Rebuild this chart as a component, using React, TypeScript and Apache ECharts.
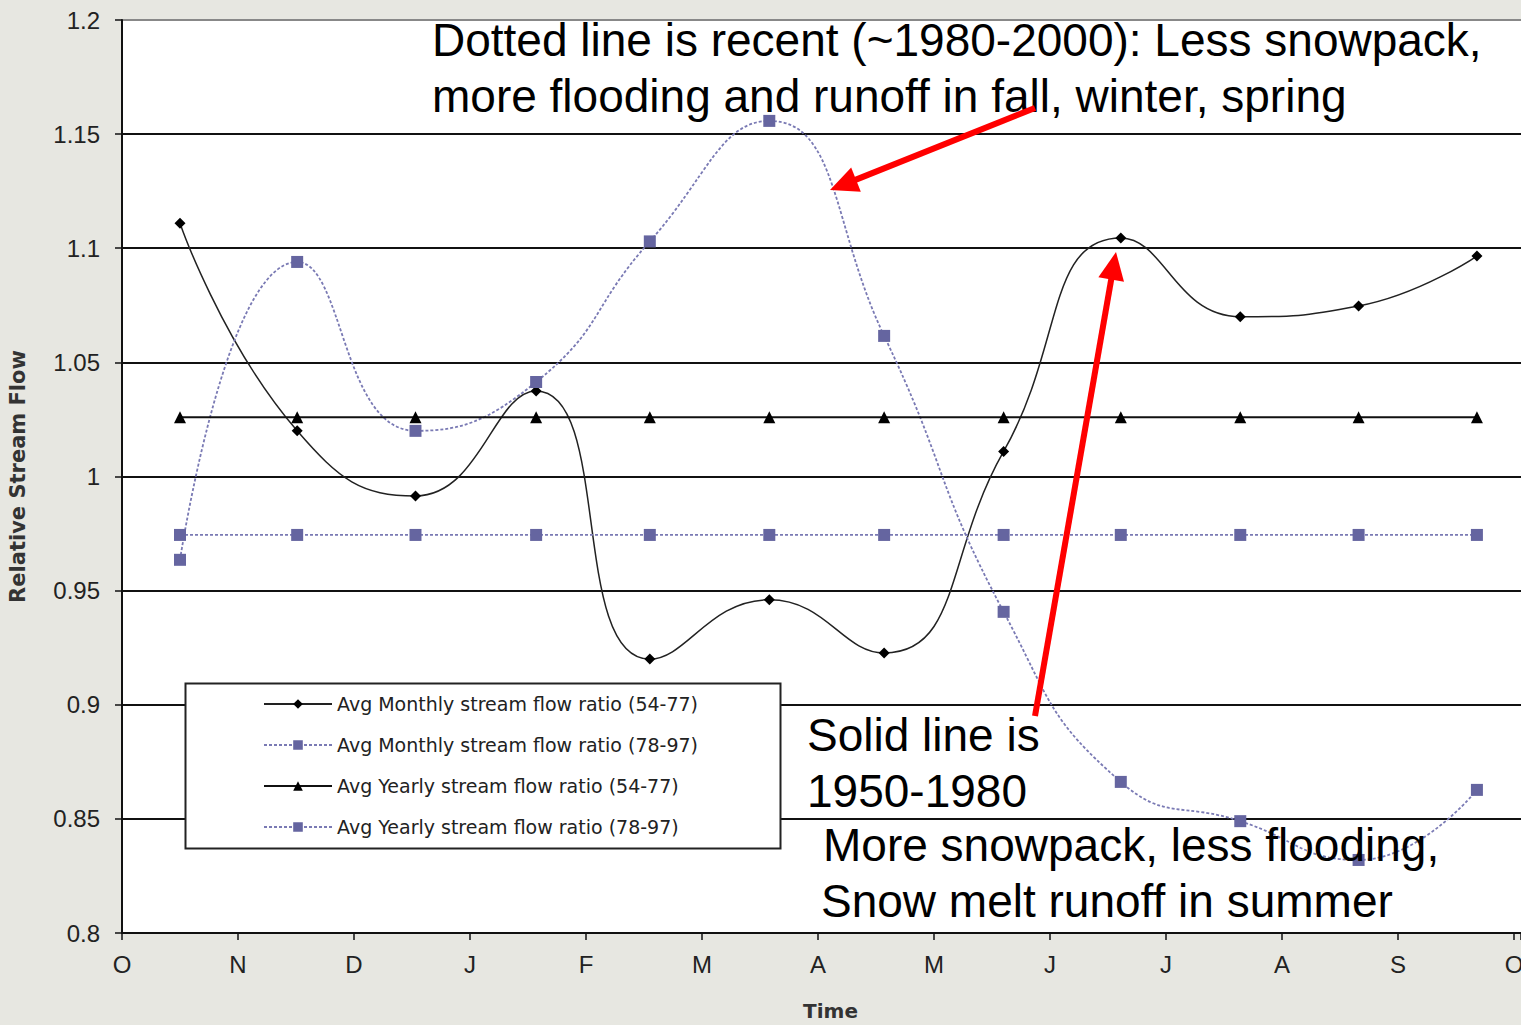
import React, { useEffect, useRef } from "react";
import * as echarts from "echarts";

const monthLabels = ["O", "N", "D", "J", "F", "M", "A", "M", "J", "J", "A", "S", "O"];
const pointMonths = [0.5, 1.51, 2.53, 3.57, 4.55, 5.58, 6.57, 7.6, 8.61, 9.64, 10.66, 11.68];
const monthly5477 = [1.111, 1.02, 0.9915, 1.0375, 0.92, 0.946, 0.9227, 1.011, 1.1045, 1.07, 1.0747, 1.0966];
const monthly7897 = [0.9635, 1.094, 1.02, 1.0414, 1.103, 1.1558, 1.0616, 0.9407, 0.8662, 0.849, 0.832, 0.8627];
const yearly5477 = [1.026, 1.026, 1.026, 1.026, 1.026, 1.026, 1.026, 1.026, 1.026, 1.026, 1.026, 1.026];
const yearly7897 = [0.9744, 0.9744, 0.9744, 0.9744, 0.9744, 0.9744, 0.9744, 0.9744, 0.9744, 0.9744, 0.9744, 0.9744];
const seriesNames = [
  "Avg Monthly stream flow ratio (54-77)",
  "Avg Monthly stream flow ratio (78-97)",
  "Avg Yearly stream flow ratio (54-77)",
  "Avg Yearly stream flow ratio (78-97)",
];
const notes = [
  "Dotted line is recent (~1980-2000): Less snowpack,",
  "more flooding and runoff in fall, winter, spring",
  "Solid line is",
  "1950-1980",
  "More snowpack, less flooding,",
  "Snow melt runoff in summer",
];

const pair = (vals: number[]) => vals.map((v, i) => [pointMonths[i], v]);

function arrow(x1: number, y1: number, x2: number, y2: number) {
  const dx = x2 - x1;
  const dy = y2 - y1;
  const len = Math.sqrt(dx * dx + dy * dy);
  const ux = dx / len;
  const uy = dy / len;
  const hl = 28;
  const hw = 13;
  const bx = x2 - ux * hl;
  const by = y2 - uy * hl;
  const px = -uy * hw;
  const py = ux * hw;
  return [
    {
      type: "line",
      z: 30,
      shape: { x1, y1, x2: bx + ux * 2, y2: by + uy * 2 },
      style: { stroke: "#ff0000", lineWidth: 6 },
    },
    {
      type: "polygon",
      z: 30,
      shape: {
        points: [
          [x2, y2],
          [bx + px, by + py],
          [bx - px, by - py],
        ],
      },
      style: { fill: "#ff0000" },
    },
  ];
}

export default function App() {
  const ref = useRef<HTMLDivElement>(null);
  useEffect(() => {
    if (!ref.current) return;
    const chart = echarts.init(ref.current, null, { renderer: "svg" });
    const blue = "#6565a0";
    const blueLine = "#7a7ab4";
    const noteFont = '46px "Liberation Sans Narrow", "Liberation Sans", Arial, sans-serif';
    const noteText = (t: string, x: number, baseline: number) => ({
      type: "text",
      z: 25,
      x,
      y: baseline - 40,
      style: { text: t, font: noteFont, fill: "#000", verticalAlign: "top" },
    });
    const option: any = {
      animation: false,
      backgroundColor: "#e7e7e1",
      textStyle: { fontFamily: '"Liberation Sans", Arial, sans-serif' },
      grid: {
        left: 122,
        right: 0,
        top: 20,
        bottom: 92,
        show: true,
        backgroundColor: "#ffffff",
        borderWidth: 0,
        containLabel: false,
        outerBoundsMode: "none",
      },
      xAxis: {
        type: "value",
        min: 0,
        max: 12.06,
        interval: 1,
        name: "Time",
        nameLocation: "middle",
        nameGap: 68,
        nameTextStyle: {
          fontSize: 20,
          fontWeight: "bold",
          color: "#333",
          fontFamily: '"DejaVu Sans", sans-serif',
          padding: [0, 0, 0, 18],
        },
        axisLine: { show: true, lineStyle: { color: "#111", width: 2 } },
        axisTick: { show: true, length: 7, lineStyle: { color: "#111", width: 1.5 } },
        axisLabel: {
          fontSize: 24,
          color: "#222",
          margin: 19,
          formatter: (v: number) => {
            const r = Math.round(v);
            return Math.abs(v - r) < 1e-6 ? monthLabels[r] ?? "" : "";
          },
        },
        splitLine: { show: false },
      },
      yAxis: {
        type: "value",
        min: 0.8,
        max: 1.2,
        interval: 0.05,
        name: "Relative Stream Flow",
        nameLocation: "middle",
        nameGap: 86,
        nameRotate: 90,
        nameTextStyle: {
          fontSize: 21,
          fontWeight: "bold",
          color: "#333",
          fontFamily: '"DejaVu Sans", sans-serif',
          padding: [0, 0, 8, 0],
        },
        axisLine: { show: true, lineStyle: { color: "#111", width: 2 } },
        axisTick: { show: true, length: 7, lineStyle: { color: "#111", width: 1.5 } },
        axisLabel: { fontSize: 24, color: "#222", margin: 22 },
        splitLine: {
          show: true,
          lineStyle: {
            color: ["#111", "#111", "#111", "#111", "#111", "#111", "#111", "#111", "#888"],
            width: 1.8,
          },
        },
      },
      legend: {
        orient: "vertical",
        left: 263,
        top: 694,
        z: 20,
        itemWidth: 68,
        itemHeight: 12,
        itemGap: 21,
        padding: 0,
        textStyle: {
          fontSize: 19,
          color: "#222",
          lineHeight: 20,
          fontFamily: '"DejaVu Sans", sans-serif',
        },
        data: seriesNames,
      },
      graphic: [
        {
          type: "rect",
          z: 10,
          shape: { x: 185.5, y: 683.5, width: 595, height: 165 },
          style: { fill: "#ffffff", stroke: "#222", lineWidth: 2 },
        },
        noteText(notes[0], 432, 57),
        noteText(notes[1], 432, 113),
        noteText(notes[2], 807, 752),
        noteText(notes[3], 807, 808),
        noteText(notes[4], 823, 862),
        noteText(notes[5], 821, 918),
        ...arrow(1035, 108, 830, 190),
        ...arrow(1035, 716, 1116, 252),
      ],
      series: [
        {
          name: seriesNames[0],
          type: "line",
          smooth: 0.5,
          data: pair(monthly5477),
          symbol: "diamond",
          symbolSize: 11,
          itemStyle: { color: "#000" },
          lineStyle: { color: "#222", width: 1.5 },
        },
        {
          name: seriesNames[1],
          type: "line",
          smooth: 0.5,
          data: pair(monthly7897),
          symbol: "rect",
          symbolSize: 12,
          itemStyle: { color: blue },
          lineStyle: { color: blueLine, width: 1.8, type: [3, 2] },
        },
        {
          name: seriesNames[2],
          type: "line",
          data: pair(yearly5477),
          symbol: "triangle",
          symbolSize: 12,
          itemStyle: { color: "#000" },
          lineStyle: { color: "#111", width: 2 },
        },
        {
          name: seriesNames[3],
          type: "line",
          data: pair(yearly7897),
          symbol: "rect",
          symbolSize: 12,
          itemStyle: { color: blue },
          lineStyle: { color: blueLine, width: 1.8, type: [3, 2] },
        },
      ],
    };
    chart.setOption(option);
    return () => chart.dispose();
  }, []);
  return (
    <div
      ref={ref}
      style={{ position: "fixed", left: 0, top: 0, width: 1521, height: 1025 }}
    />
  );
}
